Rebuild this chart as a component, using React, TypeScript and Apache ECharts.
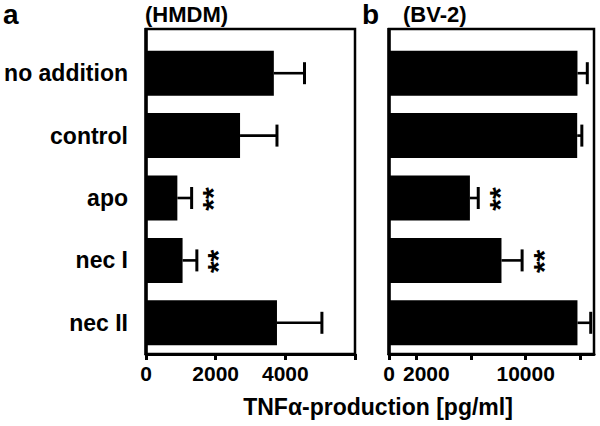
import React, { useEffect, useRef } from 'react';
import * as echarts from 'echarts';

const categories = ['no addition', 'control', 'apo', 'nec I', 'nec II'];
const hmdmMean = [3670, 2700, 900, 1050, 3760];
const hmdmErr = [880, 1060, 410, 410, 1290];
const bv2Mean = [13790, 13770, 5920, 8230, 13790];
const bv2Err = [720, 340, 610, 1510, 970];
const hmdmSig = ['', '', '**', '**', ''];
const bv2Sig = ['', '', '**', '**', ''];
const hmdmTicks = [0, 2000, 4000, 6000];
const hmdmTickLabels = [0, 2000, 4000];
const bv2Ticks = [0, 2000, 6000, 10000, 14000];
const bv2TickLabels = [0, 2000, 10000];
const panelTitles = ['(HMDM)', '(BV-2)'];
const panelLetters = ['a', 'b'];
const axisTitle = 'TNF\u03b1-production [pg/ml]';

const FONT = '"Liberation Sans", Arial, Helvetica, sans-serif';

function errorSeries(idx: number, mean: number[], err: number[], sig: string[]) {
  return {
    type: 'custom',
    xAxisIndex: idx,
    yAxisIndex: idx,
    encode: { x: [0, 1], y: 2 },
    data: categories.map((c, i) => [mean[i], mean[i] + err[i], c]),
    z: 5,
    renderItem: (params: any, api: any) => {
      const cat = api.value(2);
      const m = api.coord([api.value(0), cat]);
      const u = api.coord([api.value(1), cat]);
      const children: any[] = [
        {
          type: 'line',
          shape: { x1: m[0], y1: m[1], x2: u[0], y2: u[1] },
          style: { stroke: '#000', lineWidth: 2.6 },
        },
        {
          type: 'line',
          shape: { x1: u[0], y1: u[1] - 11, x2: u[0], y2: u[1] + 11 },
          style: { stroke: '#000', lineWidth: 3 },
        },
      ];
      const s = sig[params.dataIndex];
      if (s) {
        children.push({
          type: 'text',
          x: u[0] + 21,
          y: u[1] + 1,
          rotation: Math.PI / 2,
          style: {
            text: s,
            font: `bold 30px ${FONT}`,
            fill: '#000',
            align: 'center',
            verticalAlign: 'middle',
          },
        });
      }
      return { type: 'group', children };
    },
  };
}

export default function App() {
  const ref = useRef<HTMLDivElement>(null);
  useEffect(() => {
    if (!ref.current) return;
    const chart = echarts.init(ref.current, null, { renderer: 'svg' });
    const labelStyle = { color: '#000', fontFamily: FONT, fontWeight: 'bold', fontSize: 21 };
    const grids = [
      { left: 146, top: 42, width: 209, height: 312 },
      { left: 389, top: 42, width: 205, height: 312 },
    ];
    chart.setOption({
      animation: false,
      grid: grids,
      xAxis: [
        {
          type: 'value',
          gridIndex: 0,
          min: 0,
          max: 6000,
          splitLine: { show: false },
          axisLine: { show: true, lineStyle: { color: '#000', width: 3 } },
          axisTick: { show: true, customValues: hmdmTicks, length: 6, lineStyle: { color: '#000', width: 3 } },
          axisLabel: { ...labelStyle, customValues: hmdmTickLabels, margin: 9, formatter: (v: number) => String(v) },
        },
        {
          type: 'value',
          gridIndex: 1,
          min: 0,
          max: 15000,
          splitLine: { show: false },
          axisLine: { show: true, lineStyle: { color: '#000', width: 3 } },
          axisTick: { show: true, customValues: bv2Ticks, length: 6, lineStyle: { color: '#000', width: 3 } },
          axisLabel: {
            ...labelStyle,
            customValues: bv2TickLabels,
            margin: 9,
            formatter: (v: number) => (v === 2000 ? '{s|' + v + '}' : String(v)),
            rich: { s: { ...labelStyle, padding: [0, 0, 0, 20] } },
          },
        },
      ],
      yAxis: [0, 1].map((i) => ({
        type: 'category',
        gridIndex: i,
        data: categories,
        inverse: true,
        axisLine: { show: false },
        axisTick: { show: false },
        axisLabel: i === 0 ? { ...labelStyle, fontSize: 23, margin: 18 } : { show: false },
      })),
      series: [
        { type: 'bar', xAxisIndex: 0, yAxisIndex: 0, data: hmdmMean, barWidth: 45, itemStyle: { color: '#000' } },
        { type: 'bar', xAxisIndex: 1, yAxisIndex: 1, data: bv2Mean, barWidth: 45, itemStyle: { color: '#000' } },
        errorSeries(0, hmdmMean, hmdmErr, hmdmSig),
        errorSeries(1, bv2Mean, bv2Err, bv2Sig),
      ],
      graphic: [
        ...grids.map((g) => ({
          type: 'rect',
          shape: { x: g.left, y: 29, width: g.width, height: 325 },
          style: { fill: 'none', stroke: '#000', lineWidth: 2.5 },
          z: 10,
        })),
        ...grids.map((g) => ({
          type: 'line',
          shape: { x1: g.left, y1: 28, x2: g.left, y2: 355 },
          style: { stroke: '#000', lineWidth: 3.5 },
          z: 10,
        })),
        {
          type: 'text', x: 3, y: 14,
          style: { text: panelLetters[0], font: `bold 28px ${FONT}`, fill: '#000', verticalAlign: 'middle' },
        },
        {
          type: 'text', x: 362, y: 14,
          style: { text: panelLetters[1], font: `bold 28px ${FONT}`, fill: '#000', verticalAlign: 'middle' },
        },
        {
          type: 'text', x: 145, y: 14,
          style: { text: panelTitles[0], font: `bold 22px ${FONT}`, fill: '#000', verticalAlign: 'middle' },
        },
        {
          type: 'text', x: 403, y: 14,
          style: { text: panelTitles[1], font: `bold 22px ${FONT}`, fill: '#000', verticalAlign: 'middle' },
        },
        {
          type: 'text', x: 378, y: 407,
          style: { text: axisTitle, font: `bold 23px ${FONT}`, fill: '#000', align: 'center', verticalAlign: 'middle' },
        },
      ],
    });
    return () => chart.dispose();
  }, []);
  return <div ref={ref} style={{ position: 'absolute', left: 0, top: 0, width: 600, height: 426 }} />;
}
